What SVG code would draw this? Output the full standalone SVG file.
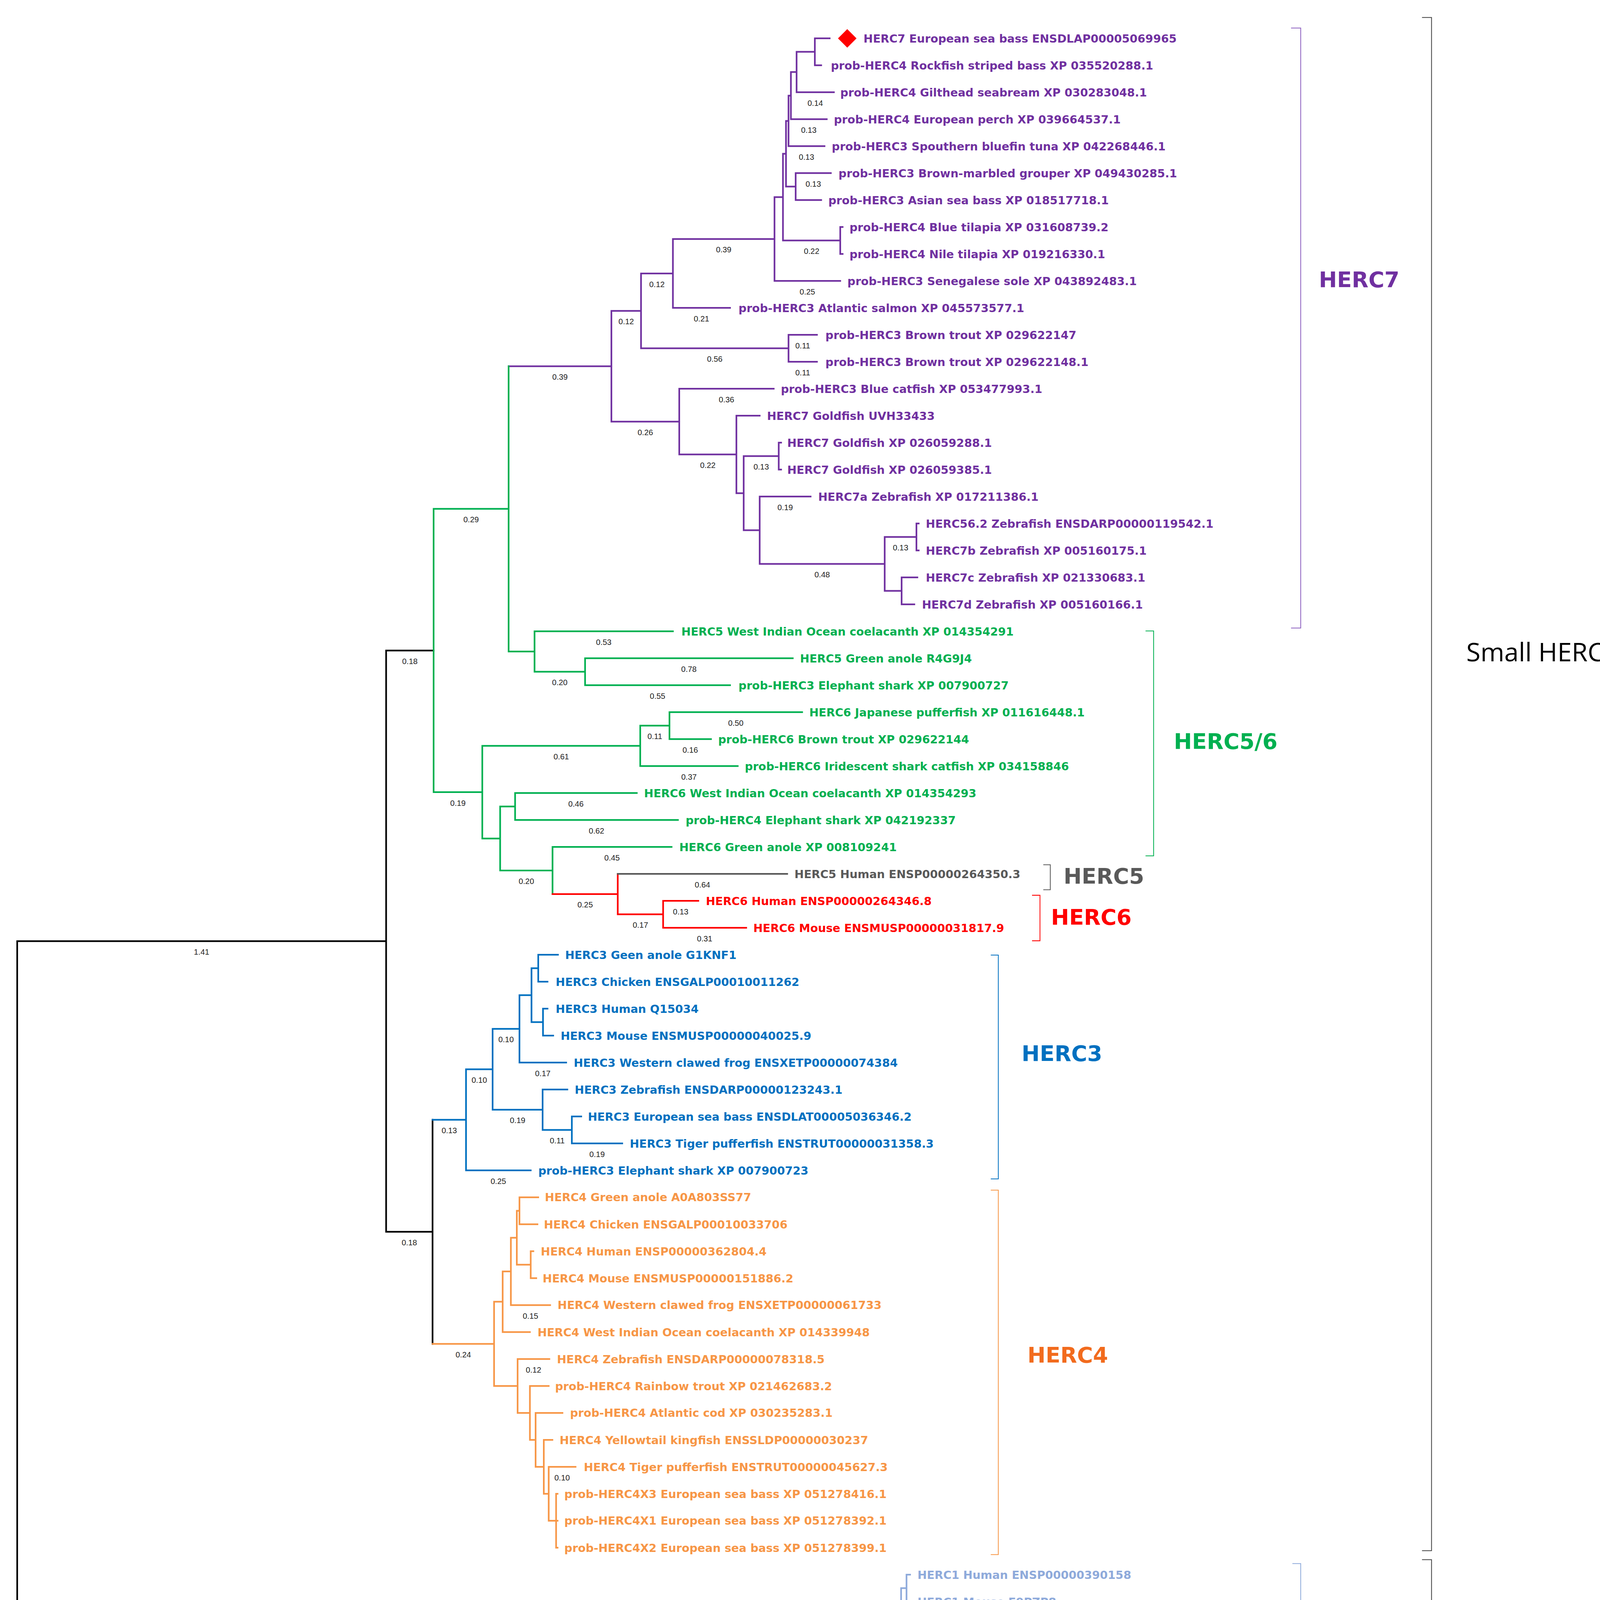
<svg xmlns="http://www.w3.org/2000/svg" width="4172" height="5315" viewBox="0 0 4172 5315">
<style>
.t{font-family:"DejaVu Sans",Verdana,sans-serif;font-weight:bold;font-size:8.5px}
.bl{font-family:"Liberation Sans",Arial,sans-serif;font-size:6px;fill:#222;text-anchor:middle}
.cl{font-family:"DejaVu Sans",Verdana,sans-serif;font-weight:bold;font-size:16.4px}
.grp{font-family:"Open Sans","Noto Sans",sans-serif;font-size:19.5px;fill:#000}
.br{fill:none;stroke-width:1.25;stroke-linecap:square;stroke-linejoin:miter}
.bk{fill:none;stroke-width:0.6}
.p7{fill:#7030A0}.s7{stroke:#7030A0}
.p56{fill:#00B050}.s56{stroke:#00B050}
.p5{fill:#595959}.s5{stroke:#595959}
.p6{fill:#FF0000}.s6{stroke:#FF0000}
.p3{fill:#0070C0}.s3{stroke:#0070C0}
.p4{fill:#F79646}.s4{stroke:#F79646}
.p1{fill:#8EAADB}.s1{stroke:#8EAADB}
.p2{fill:#92D050}.s2{stroke:#92D050}
.sk{stroke:#000}
</style>
<rect width="4172" height="5315" fill="#fff"/>
<g transform="scale(3.38636)">
<g id="connectors">
<path class="br sk" d="M291.9 711.5 H13 V1343.2 M327.8 491.78 H291.9 V931.23 H327 M327 846.55 V1015.92"/>
<path class="br s7" d="M384.5 276.86 H462.2 M484.6 235.02 H462.2 V318.71 H513.5 M508.7 206.72 H484.6 V263.31 H596.1 M585.5 180.7 H508.7 V232.75 H551.9 M591.9 149.02 H585.5 V212.375 H635.2 M594.2 116.23 H591.9 V181.81 H635.2 M596.1 91.4 H594.2 V141.06 H601.5 M597.9 72.3 H596.1 V110.5 H623.3 M602.2 54.47 H597.9 V90.125 H625 M616 39.19 H602.2 V69.75 H630.4 M627.2 29 H616 V49.375 H620.8 M628.1 130.875 H601.5 V151.25 H620.8 M637 171.625 H635.2 V192 H637 M617.6 253.125 H596.1 V273.5 H617.6 M584.9 293.875 H513.5 V343.54 H556.7 M574.3 314.25 H556.7 V372.83 H562.2 M588.7 344.81 H562.2 V400.84 H574.3 M590.5 334.625 H588.7 V355 H590.5 M612.8 375.375 H574.3 V426.31 H668.8 M692.8 405.94 H668.8 V446.69 H681.6 M694.5 395.75 H692.8 V416.125 H694.5 M693.5 436.5 H681.6 V456.875 H691.2"/>
<path class="br s56" d="M384.5 384.7 H327.8 V598.86 H364.6 M384.5 276.86 V492.53 H404.1 M508.7 477.25 H404.1 V507.81 H442.3 M599.3 497.625 H442.3 V518 H551.9 M484 563.84 H364.6 V633.88 H378.1 M506.1 548.56 H484 V579.125 H557.7 M606.4 538.375 H506.1 V558.75 H537.5 M389.4 609.69 H378.1 V658.08 H417.7 M481.4 599.5 H389.4 V619.875 H512.5 M507.7 640.25 H417.7 V675.91"/>
<path class="br s6" d="M417.7 675.91 H467 M467 660.625 V691.19 H501.3 M527.9 681 H501.3 V701.375 H564.1"/>
<path class="br s5" d="M467 660.625 H595.1"/>
<path class="br s3" d="M327 846.55 H352.3 M372.4 808.34 H352.3 V884.75 H401.2 M392.7 777.78 H372.4 V838.91 H410.2 M401.8 752.31 H392.7 V803.25 H428 M406.9 731.94 H401.8 V772.69 H410.5 M421.8 721.75 H406.9 V742.125 H413.9 M413.9 762.5 H410.5 V782.875 H418.2 M428.9 823.625 H410.2 V854.19 H432.3 M439.4 844 H432.3 V864.375 H470.4"/>
<path class="br s4" d="M327 1015.92 H373.5 M380 984.08 H373.5 V1047.75 H391.3 M386.2 961.16 H380 V1007 H400.6 M390.7 935.69 H386.2 V986.625 H415.9 M392.7 915.31 H390.7 V956.06 H401.2 M406.9 905.125 H392.7 V925.5 H406.3 M403.2 945.875 H401.2 V966.25 H405.4 M415.3 1027.375 H391.3 V1068.125 H400.6 M414.8 1047.75 H400.6 V1088.5 H404.9 M425.2 1068.125 H404.9 V1108.875 H411.1 M417.6 1088.5 H411.1 V1129.25 H414.8 M435.1 1108.875 H414.8 V1149.625 H420.4 M421.5 1129.25 H420.4 V1170 H421.5 M420.4 1149.625 H421.5"/>
<path class="br s1" d="M140 1343.2 V1297.66 H668.4 M672.5 1272.51 H668.4 V1322.81 H671 M676.2 1252.77 H672.5 V1292.25 H682.9 M679.7 1233.67 H676.2 V1271.875 H689.5 M681.2 1215.84 H679.7 V1251.5 H692.2 M685.3 1200.56 H681.2 V1231.125 H686 M688 1190.375 H685.3 V1210.75 H688 M687 1312.625 H671 V1333 H678.7"/>
<path class="br s2" d="M13 1343.2 H140 V1388.71 H312.2 M315.8 1363.56 H312.2 V1413.86 H313.2 M323.3 1353.375 H315.8 V1373.75 H320.3 M322.6 1394.125 H313.2 V1433.6 H313.8 M320.3 1414.5 H313.8 V1452.7 H314.5 M317.4 1434.875 H314.5 V1470.53 H315.8 M316.9 1455.25 H315.8 V1485.81 H321.5 M323 1475.625 H321.5 V1496 H323"/>
</g>
<g id="branch-lengths">
<text class="bl" x="152.4" y="721.7">1.41</text>
<text class="bl" x="309.85" y="502">0.18</text>
<text class="bl" x="356.15" y="394.9">0.29</text>
<text class="bl" x="423.35" y="287.1">0.39</text>
<text class="bl" x="473.4" y="245.2">0.12</text>
<text class="bl" x="496.65" y="216.9">0.12</text>
<text class="bl" x="547.1" y="190.9">0.39</text>
<text class="bl" x="616.3" y="79.9">0.14</text>
<text class="bl" x="611.45" y="100.3">0.13</text>
<text class="bl" x="609.7" y="120.7">0.13</text>
<text class="bl" x="614.8" y="141.1">0.13</text>
<text class="bl" x="613.55" y="192">0.22</text>
<text class="bl" x="610.35" y="222.6">0.25</text>
<text class="bl" x="530.3" y="243">0.21</text>
<text class="bl" x="540.35" y="273.5">0.56</text>
<text class="bl" x="606.85" y="263.3">0.11</text>
<text class="bl" x="606.85" y="283.7">0.11</text>
<text class="bl" x="549.2" y="304.1">0.36</text>
<text class="bl" x="487.85" y="328.9">0.26</text>
<text class="bl" x="535.1" y="353.7">0.22</text>
<text class="bl" x="575.45" y="355">0.13</text>
<text class="bl" x="593.55" y="385.6">0.19</text>
<text class="bl" x="621.55" y="436.5">0.48</text>
<text class="bl" x="680.8" y="416.1">0.13</text>
<text class="bl" x="456.4" y="487.4">0.53</text>
<text class="bl" x="423.2" y="518">0.20</text>
<text class="bl" x="520.8" y="507.8">0.78</text>
<text class="bl" x="497.1" y="528.2">0.55</text>
<text class="bl" x="424.3" y="574">0.61</text>
<text class="bl" x="495.05" y="558.8">0.11</text>
<text class="bl" x="556.25" y="548.6">0.50</text>
<text class="bl" x="521.8" y="569">0.16</text>
<text class="bl" x="520.85" y="589.3">0.37</text>
<text class="bl" x="346.2" y="609.1">0.19</text>
<text class="bl" x="435.4" y="609.7">0.46</text>
<text class="bl" x="450.95" y="630.1">0.62</text>
<text class="bl" x="462.7" y="650.5">0.45</text>
<text class="bl" x="397.9" y="668.3">0.20</text>
<text class="bl" x="442.35" y="686.1">0.25</text>
<text class="bl" x="531.05" y="670.8">0.64</text>
<text class="bl" x="484.15" y="701.4">0.17</text>
<text class="bl" x="514.6" y="691.2">0.13</text>
<text class="bl" x="532.7" y="711.6">0.31</text>
<text class="bl" x="339.65" y="856.8">0.13</text>
<text class="bl" x="362.35" y="818.5">0.10</text>
<text class="bl" x="382.55" y="788">0.10</text>
<text class="bl" x="410.35" y="813.5">0.17</text>
<text class="bl" x="391.3" y="849.1">0.19</text>
<text class="bl" x="421.25" y="864.4">0.11</text>
<text class="bl" x="451.35" y="874.6">0.19</text>
<text class="bl" x="376.75" y="895">0.25</text>
<text class="bl" x="309.45" y="941.4">0.18</text>
<text class="bl" x="350.25" y="1026.1">0.24</text>
<text class="bl" x="401.05" y="996.8">0.15</text>
<text class="bl" x="403.3" y="1037.6">0.12</text>
<text class="bl" x="424.95" y="1119.1">0.10</text>
<text class="bl" x="76.5" y="1353.4">0.64</text>
<text class="bl" x="404.2" y="1307.9">2.67</text>
<text class="bl" x="226.1" y="1398.9">0.87</text>
</g>
<g id="leaves">
<g id="marker-query"><path d="M640.5 22 L647.5 29 L640.5 36 L633.5 29 Z" fill="#FF0000"/></g>
<g id="leaf-1"><text class="t p7" x="652.8" y="32.1">HERC7 European sea bass ENSDLAP00005069965</text></g>
<g id="leaf-2"><text class="t p7" x="628.1" y="52.5">prob-HERC4 Rockfish striped bass XP 035520288.1</text></g>
<g id="leaf-3"><text class="t p7" x="635.2" y="72.85">prob-HERC4 Gilthead seabream XP 030283048.1</text></g>
<g id="leaf-4"><text class="t p7" x="630.4" y="93.2">prob-HERC4 European perch XP 039664537.1</text></g>
<g id="leaf-5"><text class="t p7" x="628.8" y="113.6">prob-HERC3 Spouthern bluefin tuna XP 042268446.1</text></g>
<g id="leaf-6"><text class="t p7" x="633.9" y="134">prob-HERC3 Brown-marbled grouper XP 049430285.1</text></g>
<g id="leaf-7"><text class="t p7" x="626.2" y="154.35">prob-HERC3 Asian sea bass XP 018517718.1</text></g>
<g id="leaf-8"><text class="t p7" x="642.2" y="174.7">prob-HERC4 Blue tilapia XP 031608739.2</text></g>
<g id="leaf-9"><text class="t p7" x="642.2" y="195.1">prob-HERC4 Nile tilapia XP 019216330.1</text></g>
<g id="leaf-10"><text class="t p7" x="640.6" y="215.5">prob-HERC3 Senegalese sole XP 043892483.1</text></g>
<g id="leaf-11"><text class="t p7" x="558.3" y="235.85">prob-HERC3 Atlantic salmon XP 045573577.1</text></g>
<g id="leaf-12"><text class="t p7" x="624" y="256.2">prob-HERC3 Brown trout XP 029622147</text></g>
<g id="leaf-13"><text class="t p7" x="624" y="276.6">prob-HERC3 Brown trout XP 029622148.1</text></g>
<g id="leaf-14"><text class="t p7" x="590.3" y="297">prob-HERC3 Blue catfish XP 053477993.1</text></g>
<g id="leaf-15"><text class="t p7" x="579.8" y="317.35">HERC7 Goldfish UVH33433</text></g>
<g id="leaf-16"><text class="t p7" x="595.1" y="337.7">HERC7 Goldfish XP 026059288.1</text></g>
<g id="leaf-17"><text class="t p7" x="595.1" y="358.1">HERC7 Goldfish XP 026059385.1</text></g>
<g id="leaf-18"><text class="t p7" x="618.5" y="378.5">HERC7a Zebrafish XP 017211386.1</text></g>
<g id="leaf-19"><text class="t p7" x="699.9" y="398.85">HERC56.2 Zebrafish ENSDARP00000119542.1</text></g>
<g id="leaf-20"><text class="t p7" x="699.9" y="419.2">HERC7b Zebrafish XP 005160175.1</text></g>
<g id="leaf-21"><text class="t p7" x="699.9" y="439.6">HERC7c Zebrafish XP 021330683.1</text></g>
<g id="leaf-22"><text class="t p7" x="697" y="460">HERC7d Zebrafish XP 005160166.1</text></g>
<g id="leaf-23"><text class="t p56" x="515.1" y="480.35">HERC5 West Indian Ocean coelacanth XP 014354291</text></g>
<g id="leaf-24"><text class="t p56" x="604.8" y="500.7">HERC5 Green anole R4G9J4</text></g>
<g id="leaf-25"><text class="t p56" x="558.3" y="521.1">prob-HERC3 Elephant shark XP 007900727</text></g>
<g id="leaf-26"><text class="t p56" x="611.8" y="541.5">HERC6 Japanese pufferfish XP 011616448.1</text></g>
<g id="leaf-27"><text class="t p56" x="542.9" y="561.85">prob-HERC6 Brown trout XP 029622144</text></g>
<g id="leaf-28"><text class="t p56" x="563.1" y="582.2">prob-HERC6 Iridescent shark catfish XP 034158846</text></g>
<g id="leaf-29"><text class="t p56" x="486.9" y="602.6">HERC6 West Indian Ocean coelacanth XP 014354293</text></g>
<g id="leaf-30"><text class="t p56" x="518.3" y="623">prob-HERC4 Elephant shark XP 042192337</text></g>
<g id="leaf-31"><text class="t p56" x="513.5" y="643.35">HERC6 Green anole XP 008109241</text></g>
<g id="leaf-32"><text class="t p5" x="600.6" y="663.7">HERC5 Human ENSP00000264350.3</text></g>
<g id="leaf-33"><text class="t p6" x="533.6" y="684.1">HERC6 Human ENSP00000264346.8</text></g>
<g id="leaf-34"><text class="t p6" x="569.5" y="704.5">HERC6 Mouse ENSMUSP00000031817.9</text></g>
<g id="leaf-35"><text class="t p3" x="427.2" y="724.85">HERC3 Geen anole G1KNF1</text></g>
<g id="leaf-36"><text class="t p3" x="420.1" y="745.2">HERC3 Chicken ENSGALP00010011262</text></g>
<g id="leaf-37"><text class="t p3" x="420.1" y="765.6">HERC3 Human Q15034</text></g>
<g id="leaf-38"><text class="t p3" x="423.8" y="786">HERC3 Mouse ENSMUSP00000040025.9</text></g>
<g id="leaf-39"><text class="t p3" x="433.7" y="806.35">HERC3 Western clawed frog ENSXETP00000074384</text></g>
<g id="leaf-40"><text class="t p3" x="434.5" y="826.7">HERC3 Zebrafish ENSDARP00000123243.1</text></g>
<g id="leaf-41"><text class="t p3" x="444.4" y="847.1">HERC3 European sea bass ENSDLAT00005036346.2</text></g>
<g id="leaf-42"><text class="t p3" x="476.1" y="867.5">HERC3 Tiger pufferfish ENSTRUT00000031358.3</text></g>
<g id="leaf-43"><text class="t p3" x="406.9" y="887.85">prob-HERC3 Elephant shark XP 007900723</text></g>
<g id="leaf-44"><text class="t p4" x="411.9" y="908.2">HERC4 Green anole A0A803SS77</text></g>
<g id="leaf-45"><text class="t p4" x="411.1" y="928.6">HERC4 Chicken ENSGALP00010033706</text></g>
<g id="leaf-46"><text class="t p4" x="408.8" y="949">HERC4 Human ENSP00000362804.4</text></g>
<g id="leaf-47"><text class="t p4" x="410.2" y="969.35">HERC4 Mouse ENSMUSP00000151886.2</text></g>
<g id="leaf-48"><text class="t p4" x="421.5" y="989.7">HERC4 Western clawed frog ENSXETP00000061733</text></g>
<g id="leaf-49"><text class="t p4" x="406.3" y="1010.1">HERC4 West Indian Ocean coelacanth XP 014339948</text></g>
<g id="leaf-50"><text class="t p4" x="421" y="1030.5">HERC4 Zebrafish ENSDARP00000078318.5</text></g>
<g id="leaf-51"><text class="t p4" x="419.6" y="1050.85">prob-HERC4 Rainbow trout XP 021462683.2</text></g>
<g id="leaf-52"><text class="t p4" x="430.9" y="1071.2">prob-HERC4 Atlantic cod XP 030235283.1</text></g>
<g id="leaf-53"><text class="t p4" x="423" y="1091.6">HERC4 Yellowtail kingfish ENSSLDP00000030237</text></g>
<g id="leaf-54"><text class="t p4" x="441.3" y="1112">HERC4 Tiger pufferfish ENSTRUT00000045627.3</text></g>
<g id="leaf-55"><text class="t p4" x="426.6" y="1132.35">prob-HERC4X3 European sea bass XP 051278416.1</text></g>
<g id="leaf-56"><text class="t p4" x="426.6" y="1152.7">prob-HERC4X1 European sea bass XP 051278392.1</text></g>
<g id="leaf-57"><text class="t p4" x="426.6" y="1173.1">prob-HERC4X2 European sea bass XP 051278399.1</text></g>
<g id="leaf-58"><text class="t p1" x="693.6" y="1193.5">HERC1 Human ENSP00000390158</text></g>
<g id="leaf-59"><text class="t p1" x="693.6" y="1213.85">HERC1 Mouse E9PZP8</text></g>
<g id="leaf-60"><text class="t p1" x="692.2" y="1234.2">HERC1 Chicken ENSGALP00010036446</text></g>
<g id="leaf-61"><text class="t p1" x="698" y="1254.6">HERC1 Green anole XP 003228124</text></g>
<g id="leaf-62"><text class="t p1" x="695.3" y="1275">HERC1 Western clawed frog ENSXETP00000021476</text></g>
<g id="leaf-63"><text class="t p1" x="688.7" y="1295.35">HERC1 West Indian Ocean coelacanth H3AE39</text></g>
<g id="leaf-64"><text class="t p1" x="692.8" y="1315.7">HERC1 Zebrafish ENSDARP00000098798</text></g>
<g id="leaf-65"><text class="t p1" x="685.3" y="1336.1">HERC1 European sea bass ENSDLAP00005054461</text></g>
<g id="leaf-66"><text class="t p2" x="329.2" y="1356.5">HERC2 Zebrafish ENSDARP00000098322</text></g>
<g id="leaf-67"><text class="t p2" x="325.8" y="1376.85">HERC2 European sea bass ENSDLAP00005037033</text></g>
<g id="leaf-68"><text class="t p2" x="328.1" y="1397.2">HERC2 Wst Indian Ocean coelacanth H3B372</text></g>
<g id="leaf-69"><text class="t p2" x="325.8" y="1417.6">HERC2 Western clawed frog ENSXETP00000008985</text></g>
<g id="leaf-70"><text class="t p2" x="325.8" y="1438">HERC2 Green anole A0A803TFQ9</text></g>
<g id="leaf-71"><text class="t p2" x="324" y="1458.35">HERC2 Chicken ENSGALP00010004096</text></g>
<g id="leaf-72"><text class="t p2" x="328.1" y="1478.7">HERC2 Human ENSP00000261609</text></g>
<g id="leaf-73"><text class="t p2" x="329.2" y="1499.1">HERC2 Mouse ENSMUSP00000131573</text></g>
</g>
<g id="clade-brackets">
<g id="clade-HERC7"><path class="bk" stroke="#8C5FC0" d="M976 21.2 H983.3 V474.8 H976"/><text class="cl p7" x="997" y="217">HERC7</text></g>
<g id="clade-HERC56"><path class="bk" stroke="#00B050" d="M866 477 H872.1 V647 H866"/><text class="cl p56" x="887.4" y="566">HERC5/6</text></g>
<g id="clade-HERC5"><path class="bk" stroke="#595959" d="M788.7 653.7 H794 V672.6 H788.7"/><text class="cl p5" x="804" y="668">HERC5</text></g>
<g id="clade-HERC6"><path class="bk" stroke="#FF0000" d="M780.2 676.8 H786.2 V711.2 H780.2"/><text class="cl p6" x="794.5" y="699">HERC6</text></g>
<g id="clade-HERC3"><path class="bk" stroke="#0070C0" d="M749 722 H754.7 V891.2 H749"/><text class="cl p3" x="772.3" y="802">HERC3</text></g>
<g id="clade-HERC4"><path class="bk" stroke="#F79646" d="M749 899.7 H754.7 V1175.2 H749"/><text class="cl" fill="#F26B1D" x="776.7" y="1030">HERC4</text></g>
<g id="clade-HERC1"><path class="bk" stroke="#8EAADB" d="M977 1182 H983.3 V1346.7 H977"/><text class="cl p1" x="999" y="1267">HERC1</text></g>
<g id="clade-HERC2"><path class="bk" stroke="#92D050" d="M619 1343.1 H625.2 V1513.2 H619"/><text class="cl" fill="#70AD47" x="643" y="1434">HERC2</text></g>
<g id="group-small"><path class="bk" stroke="#404040" d="M1075 13.2 H1082.2 V1172.3 H1075"/><text class="grp" x="1108.5" y="500">Small HERCs</text></g>
<g id="group-large"><path class="bk" stroke="#404040" d="M1075 1179.1 H1082.2 V1518.8 H1075"/><text class="grp" x="1101.5" y="1385">Large HERCs</text></g>
</g>
<g id="scale-bar">
<path d="M30 1532.3 H128.5 M30 1529 V1535.6 M128.5 1529 V1535.6" fill="none" stroke="#333" stroke-width="1.1"/>
<text x="78.8" y="1557" font-family="'Liberation Sans',Arial,sans-serif" font-size="9" fill="#222" text-anchor="middle">0.50</text>
</g>
</g>
</svg>
